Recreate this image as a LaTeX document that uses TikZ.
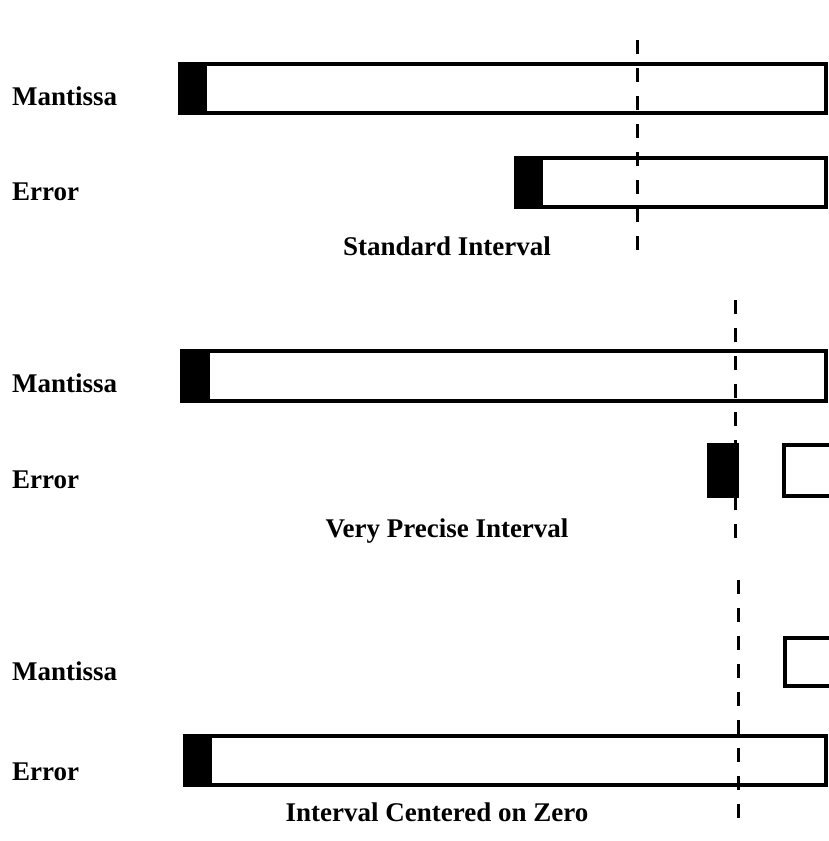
\documentclass[tikz,border=0pt]{standalone}
\usepackage{fontspec}
\setmainfont{Liberation Serif}
\begin{document}
\begin{tikzpicture}[x=1pt,y=-1pt,
  lbl/.style={anchor=west,inner sep=0pt,font=\fontsize{27}{30}\selectfont\bfseries},
  ttl/.style={inner sep=0pt,font=\fontsize{27}{30}\selectfont\bfseries},
  reg/.style={draw,line width=3.2pt},
  cut/.style={draw,line width=3pt,dash pattern=on 14pt off 14pt}]
\useasboundingbox (0,0) rectangle (829,841);
\clip (0,0) rectangle (829,841);
% standard interval
\node[lbl] (m1) at (12,96) {Mantissa};
\node[lbl] (e1) at (12,192) {Error};
\fill (180,64) rectangle (207,113);
\draw[reg] (180,64) rectangle (826,113);
\fill (516,158) rectangle (543,207);
\draw[reg] (516,158) rectangle (826,207);
\draw[cut] (637,40) -- (637,258);
\node[ttl] (t1) at (447,246) {Standard Interval};
% very precise interval
\node[lbl] (m2) at (12,383) {Mantissa};
\node[lbl] (e2) at (12,480) {Error};
\fill (182,351) rectangle (210,401);
\draw[reg] (182,351) rectangle (826,401);
\fill (709,445) rectangle (737,496);
\draw[reg] (709,445) rectangle (737,496);
\draw[reg] (784,445) rectangle (840,496);
\draw[cut] (735,300) -- (735,540);
\node[ttl] (t2) at (447,531) {Very Precise Interval};
% interval centered on zero
\node[lbl] (m3) at (12,671) {Mantissa};
\node[lbl] (e3) at (12,772) {Error};
\draw[reg] (785,638) rectangle (840,686);
\fill (185,736) rectangle (212,785);
\draw[reg] (185,736) rectangle (826,785);
\draw[cut] (738,580) -- (738,822);
\node[ttl] (t3) at (437,812) {Interval Centered on Zero};
\end{tikzpicture}
\end{document}
